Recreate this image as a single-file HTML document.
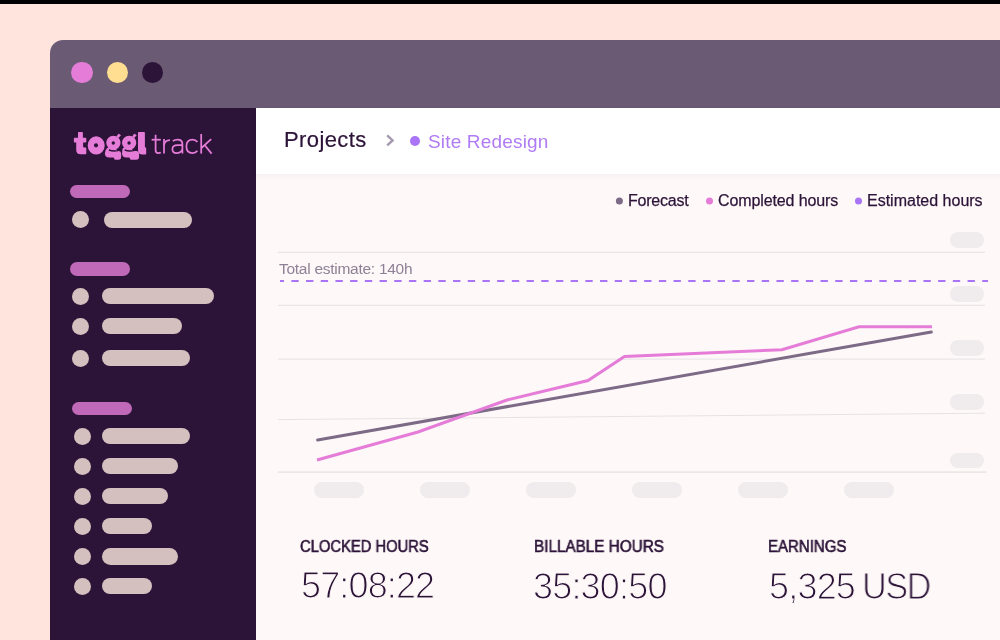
<!DOCTYPE html>
<html><head><meta charset="utf-8">
<style>
*{margin:0;padding:0;box-sizing:border-box}
html,body{width:1000px;height:640px;overflow:hidden}
body{background:#fee4dc;font-family:"Liberation Sans",sans-serif;position:relative;color:#2c1338}
.topbar{position:absolute;left:0;top:0;width:1000px;height:3.6px;background:#000}
.win{position:absolute;left:50px;top:40px;width:960px;height:610px;border-top-left-radius:13px;overflow:hidden;background:#fef9f8}
.abs{position:absolute;left:-50px;top:-40px;width:1000px;height:640px}
.title{position:absolute;left:50px;top:40px;width:960px;height:68px;background:#6a5a73}
.dot{position:absolute;width:21.6px;height:21.6px;border-radius:50%;top:61.6px}
.side{position:absolute;left:50px;top:108px;width:206px;height:560px;background:#2c1338}
.hdr{position:absolute;left:256px;top:108px;width:760px;height:66px;background:#fff;box-shadow:0 2px 6px rgba(80,40,80,.055)}
.pill{position:absolute;border-radius:20px}
.pk{background:#c069b8}
.bg{background:#d4c0be;height:16.2px}
.ci{position:absolute;width:17px;height:17px;border-radius:50%;background:#d4c0be}
.gp{position:absolute;background:#f0ebed;border-radius:10px}
.t{position:absolute;white-space:nowrap;line-height:1;transform-origin:0 0;will-change:transform}
.lbl{font-size:16px;font-weight:bold;color:#2c1338;-webkit-text-stroke:0.5px #fdf7f6}
.val{font-size:36px;color:#2c1338;-webkit-text-stroke:1.1px #fdf7f6}
.lg{font-size:16px;color:#2c1338}
svg{position:absolute;left:0;top:0;overflow:visible}
</style></head><body>
<div class="topbar"></div>
<div class="win"><div class="abs">
 <div class="title"></div>
 <div class="dot" style="left:71px;background:#e57cd8"></div>
 <div class="dot" style="left:106.6px;background:#ffde91"></div>
 <div class="dot" style="left:142px;background:#2c1338;width:21.2px;height:21.2px;top:61.8px"></div>
 <div class="side"></div>
 <div class="pill pk" style="left:70px;top:184.9px;width:60.4px;height:13.5px"></div>
<div class="pill pk" style="left:70px;top:262.2px;width:60.4px;height:13.6px"></div>
<div class="pill pk" style="left:72px;top:401.6px;width:60.4px;height:13.5px"></div>
<div class="ci" style="left:71.8px;top:211.0px"></div>
<div class="pill bg" style="left:103.8px;top:211.5px;width:88.2px"></div>
<div class="ci" style="left:71.8px;top:287.5px"></div>
<div class="pill bg" style="left:101.8px;top:288.0px;width:112.4px"></div>
<div class="ci" style="left:71.8px;top:317.5px"></div>
<div class="pill bg" style="left:101.8px;top:318.0px;width:80.4px"></div>
<div class="ci" style="left:71.8px;top:349.5px"></div>
<div class="pill bg" style="left:101.8px;top:350.0px;width:88.3px"></div>
<div class="ci" style="left:73.9px;top:427.6px"></div>
<div class="pill bg" style="left:101.8px;top:428.1px;width:88.3px"></div>
<div class="ci" style="left:73.9px;top:457.8px"></div>
<div class="pill bg" style="left:101.8px;top:458.3px;width:76.2px"></div>
<div class="ci" style="left:73.9px;top:487.7px"></div>
<div class="pill bg" style="left:101.8px;top:488.2px;width:66.2px"></div>
<div class="ci" style="left:73.9px;top:517.5px"></div>
<div class="pill bg" style="left:101.8px;top:518.0px;width:50.2px"></div>
<div class="ci" style="left:73.9px;top:547.9px"></div>
<div class="pill bg" style="left:101.8px;top:548.4px;width:75.9px"></div>
<div class="ci" style="left:73.9px;top:577.8px"></div>
<div class="pill bg" style="left:101.8px;top:578.3px;width:50.2px"></div>
 <div class="hdr"></div>
<div class="t" id="t_proj" style="left:284.1px;top:129.08px;font-size:22px;letter-spacing:0.4px;color:#2c1338;-webkit-text-stroke:0.2px #2c1338">Projects</div>
<div class="t" id="t_site" style="left:427.6px;top:131.52px;font-size:19px;letter-spacing:0.17px;color:#b07cf5;">Site Redesign</div>
<div class="t" id="t_fc" style="left:627.6px;top:193.06px;font-size:16px;letter-spacing:-0.23px;color:#2c1338;-webkit-text-stroke:0.25px #2c1338">Forecast</div>
<div class="t" id="t_ch" style="left:717.8px;top:193.06px;font-size:16px;letter-spacing:-0.11px;color:#2c1338;-webkit-text-stroke:0.25px #2c1338">Completed hours</div>
<div class="t" id="t_eh" style="left:866.8px;top:193.06px;font-size:16px;letter-spacing:0px;color:#2c1338;-webkit-text-stroke:0.25px #2c1338">Estimated hours</div>
<div class="t" id="t_te" style="left:279.2px;top:260.88px;font-size:15.5px;letter-spacing:-0.27px;color:#8e8196;">Total estimate: 140h</div>
<div class="t" id="l1" style="left:300.3px;top:538.93px;font-size:15.8px;letter-spacing:0px;color:#2c1338;-webkit-text-stroke:0.6px #2c1338;transform:scaleX(0.934)">CLOCKED HOURS</div>
<div class="t" id="l2" style="left:534.1px;top:538.93px;font-size:15.8px;letter-spacing:0px;color:#2c1338;-webkit-text-stroke:0.6px #2c1338;transform:scaleX(0.967)">BILLABLE HOURS</div>
<div class="t" id="l3" style="left:768.1px;top:538.93px;font-size:15.8px;letter-spacing:0px;color:#2c1338;-webkit-text-stroke:0.6px #2c1338;transform:scaleX(0.95)">EARNINGS</div>
<div class="t" id="v1" style="left:300.5px;top:567.53px;font-size:36px;letter-spacing:-0.86px;color:#2c1338;-webkit-text-stroke:1.1px #fef9f8">57:08:22</div>
<div class="t" id="v2" style="left:533.3px;top:569.13px;font-size:36px;letter-spacing:-0.81px;color:#2c1338;-webkit-text-stroke:1.1px #fef9f8">35:30:50</div>
<div class="t" id="v3" style="left:768.6px;top:569.13px;font-size:36px;letter-spacing:-0.8px;color:#2c1338;-webkit-text-stroke:1.1px #fef9f8">5,325</div>
<div class="t" id="v4" style="left:862.2px;top:569.13px;font-size:36px;letter-spacing:-1.5px;color:#2c1338;-webkit-text-stroke:1.1px #fef9f8;transform:scaleX(0.95)">USD</div>
 <div class="gp" style="left:314px;top:482px;width:50px;height:16px"></div><div class="gp" style="left:420px;top:482px;width:50px;height:16px"></div><div class="gp" style="left:526px;top:482px;width:50px;height:16px"></div><div class="gp" style="left:632px;top:482px;width:50px;height:16px"></div><div class="gp" style="left:738px;top:482px;width:50px;height:16px"></div><div class="gp" style="left:844px;top:482px;width:50px;height:16px"></div><div class="gp" style="left:950px;top:232.2px;width:34px;height:15.5px"></div><div class="gp" style="left:950px;top:286.3px;width:34px;height:15.5px"></div><div class="gp" style="left:950px;top:340.2px;width:34px;height:15.5px"></div><div class="gp" style="left:950px;top:394.2px;width:34px;height:15.5px"></div><div class="gp" style="left:950px;top:452.5px;width:34px;height:15.5px"></div>
 <svg width="1000" height="640" viewBox="0 0 1000 640">
  <!-- breadcrumb -->
  <path d="M387.2 135.4 L392.6 140.4 L387.2 145.4" fill="none" stroke="#a599af" stroke-width="2.4"/>
  <circle cx="415" cy="141" r="5" fill="#a974f5"/>
  <!-- legend dots -->
  <circle cx="619.4" cy="201" r="3.5" fill="#7c6a86"/>
  <circle cx="709.5" cy="201" r="3.5" fill="#e57cd8"/>
  <circle cx="858.5" cy="201" r="3.5" fill="#a974f5"/>
  <!-- grid -->
  <g stroke="#eae5e7" stroke-width="1.3" fill="none">
   <path d="M278 252.3 H985"/>
   <path d="M278 305.3 H985"/>
   <path d="M278 359.2 H985"/>
   <path d="M278 419.6 L985 413.2" stroke="#e7e2e4" stroke-width="1"/>
   <path d="M278 472.1 H986.4" stroke-width="1.6" stroke="#ebe7e8"/>
  </g>
  <path d="M280 281 H988" stroke="#a974f5" stroke-width="2.2" stroke-dasharray="7.35 7.35" stroke-dashoffset="3.35" fill="none"/>
  <path d="M317.6 440 L931.3 332" stroke="#7c6a86" stroke-width="3" stroke-linecap="round" fill="none"/>
  <path d="M317 460 L418 432 L507 400 L588 380.5 L624.5 356.4 L782 349.7 L859 326.8 L932 326.8" stroke="#e57cd8" stroke-width="3" stroke-linejoin="miter" fill="none"/>
  <g id="logo" fill="#e57cd8">
   <!-- t -->
   <path d="M78 132.8 Q78 132 78.8 132 H82.1 Q82.9 132 82.9 132.8 V137.8 H85.5 Q86.3 137.8 86.3 138.6 V141.8 Q86.3 142.6 85.5 142.6 H83.1 V146.6 Q83.1 147.4 83.9 147.4 H85.5 Q86.3 147.4 86.3 148.2 V153.5 Q86.3 154.3 85.5 154.3 H80.6 Q76.2 154.3 76.2 149.8 V142.6 H74.65 Q73.85 142.6 73.85 141.8 V138.6 Q73.85 137.8 74.65 137.8 H78 Z"/>
   <!-- o -->
   <path fill-rule="evenodd" d="M96.2 136.2 A8.5 9.2 0 1 0 96.2 154.6 A8.5 9.2 0 1 0 96.2 136.2 Z M96 143.2 A2.1 2.1 0 1 1 96 147.4 A2.1 2.1 0 1 1 96 143.2 Z"/>
   <!-- g1 -->
   <path d="M104.9 153.2 Q104.9 150 107.20 148 L113.00 146 L118.00 150.9 H118.75 Q121.15 150.9 121.15 153.4 V157 Q121.15 159.75 118.40 159.75 H115.60 Q114.20 159.75 114.20 158.7 Q114.20 157.6 113.00 157.6 H109.30 Q104.9 157.6 104.9 153.2 Z"/>
   <path d="M108.90 150.0 Q113.40 151.7 117.80 150.6 L121.80 148.4" fill="none" stroke="#2c1338" stroke-width="1.35"/>
   <path fill-rule="evenodd" d="M113.40 135.7 A7.15 7.1 0 1 0 113.40 149.9 A7.15 7.1 0 1 0 113.40 135.7 Z M113.30 141.3 A1.7 1.7 0 1 1 113.30 144.7 A1.7 1.7 0 1 1 113.30 141.3 Z"/>
   <path d="M116.40 136.4 L118.20 134 Q118.70 133.5 119.20 133.9 L120.70 135 Q121.10 135.4 120.60 135.8 L118.40 138 Z"/>
   <!-- g2 -->
   <path d="M122.05 153.2 Q122.05 150 122.95 148 L128.75 146 L133.75 150.9 H136.65 Q139.05 150.9 139.05 153.4 V157 Q139.05 159.75 136.30 159.75 H131.35 Q129.95 159.75 129.95 158.7 Q129.95 157.6 128.75 157.6 H126.45 Q122.05 157.6 122.05 153.2 Z"/>
   <path d="M124.65 150.0 Q129.15 151.7 133.55 150.6 L137.55 148.4" fill="none" stroke="#2c1338" stroke-width="1.35"/>
   <path fill-rule="evenodd" d="M129.15 135.7 A7.15 7.1 0 1 0 129.15 149.9 A7.15 7.1 0 1 0 129.15 135.7 Z M129.05 141.3 A1.7 1.7 0 1 1 129.05 144.7 A1.7 1.7 0 1 1 129.05 141.3 Z"/>
   <path d="M132.15 136.4 L133.95 134 Q134.45 133.5 134.95 133.9 L136.45 135 Q136.85 135.4 136.35 135.8 L134.15 138 Z"/>
   <!-- l -->
   <path d="M138 132.8 Q138 132 138.8 132 H144.1 Q144.9 132 144.9 132.8 V146.6 Q144.9 147.5 145.5 147.5 Q146.2 147.5 146.2 148.4 V153.6 Q146.2 154.5 145.4 154.5 H142.6 Q138 154.5 138 150 Z"/>
  </g>
  <g id="track" fill="none" stroke="#e57cd8" stroke-width="1.75" stroke-linecap="butt" stroke-linejoin="round">
   <path d="M155.6 134.8 V150.2 Q155.6 153 158.2 153 Q159.6 153 160.8 152.5"/>
   <path d="M151.6 139.7 H160.8"/>
   <path d="M164 139 V153.6"/>
   <path d="M164 145.4 Q164.4 140 170 140"/>
   <path d="M172.8 141.2 Q174.6 139.6 177.6 139.6 Q182.4 139.6 182.4 144.2 V153.6"/>
   <path d="M182.4 145.2 H177.6 Q172.4 145.2 172.4 149.2 Q172.4 153 176.6 153 Q180.6 153 182.4 149.6"/>
   <path d="M197.4 142 Q195.6 139.6 192.6 139.6 Q186.4 139.6 186.4 146.4 Q186.4 153 192.6 153 Q195.6 153 197.4 150.8"/>
   <path d="M201.2 134 V153.6"/>
   <path d="M201.4 148 L211.2 139.2"/>
   <path d="M204.8 145.2 L211.6 153.6"/>
  </g>

 </svg>
</div></div>
</body></html>
